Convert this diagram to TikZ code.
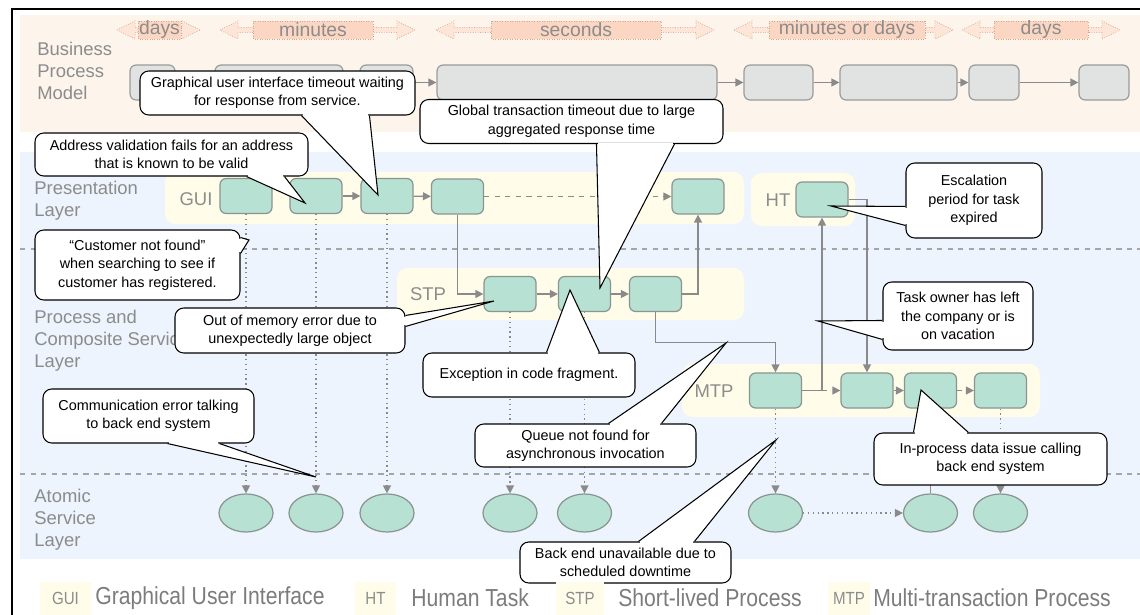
\documentclass[tikz,border=0pt]{standalone}
\usepackage{fontspec}
\setmainfont{Liberation Sans}
\newfontfamily\legendfont[FakeStretch=0.86]{Liberation Sans}
\usetikzlibrary{arrows.meta,calc,shapes.geometric}

\definecolor{bpmbg}{HTML}{FDF4EC}
\definecolor{layerbg}{HTML}{EDF4FD}
\definecolor{lanebg}{HTML}{FFFCEA}
\definecolor{taskfill}{HTML}{B6E1D3}
\definecolor{taskline}{HTML}{8A9590}
\definecolor{stepfill}{HTML}{E1E3E3}
\definecolor{stepline}{HTML}{9A9C9C}
\definecolor{connline}{HTML}{8A8A8A}
\definecolor{labelgray}{HTML}{8C8C8C}
\definecolor{keygray}{HTML}{7C7C7C}
\definecolor{spanfill}{HTML}{FDE6D8}
\definecolor{spanbody}{HTML}{FBD6C2}
\definecolor{spanline}{HTML}{D2A890}

\newcommand\pxu{0.02cm}
% time span arrow: name, from, to, label from, label to, text
\newcommand\timespan[6]{%
  \filldraw[fill=spanfill, draw=spanline, densely dotted] (#2,30) -- (#2+18,21) -- (#2+18,27.5) -- (#4,27.5) -- (#4,32.5) -- (#2+18,32.5) -- (#2+18,39) -- cycle;
  \filldraw[fill=spanfill, draw=spanline, densely dotted] (#3,30) -- (#3-18,21) -- (#3-18,27.5) -- (#5,27.5) -- (#5,32.5) -- (#3-18,32.5) -- (#3-18,39) -- cycle;
  \filldraw[fill=spanbody, draw=spanline, densely dotted] (#4,21) rectangle (#5,39);
  \node[spantext] (#1) at ({(#4+#5)/2},30) {#6};}
% callout wedge: base point, base point, tip
\newcommand\calltail[3]{%
  \fill[white] #1 -- #3 -- #2 -- cycle;
  \draw[white, line width=1.5pt, shorten <=0.7pt, shorten >=0.7pt] #1 -- #2;
  \draw[line width=0.6pt] #1 -- #3 -- #2;}

\begin{document}
\begin{tikzpicture}[x=0.02cm, y=-0.02cm, font=\fontsize{8.2}{10.5}\selectfont,
    task/.style={draw=taskline, fill=taskfill, rounded corners=3.5pt, line width=0.7pt,
      minimum width=52*\pxu, minimum height=35*\pxu, inner sep=0pt},
    bpmstep/.style={draw=stepline, fill=stepfill, rounded corners=3.5pt, line width=0.7pt,
      minimum height=35*\pxu, inner sep=0pt},
    service/.style={ellipse, draw=taskline, fill=taskfill, line width=0.7pt,
      minimum width=54*\pxu, minimum height=38*\pxu, inner sep=0pt},
    lane/.style={fill=lanebg, rounded corners=6pt},
    flow/.style={connline, line width=0.75pt, -{Triangle[length=4.5pt, width=4.5pt]}},
    drop/.style={flow, dotted},
    callout/.style={draw, fill=white, rounded corners=5pt, line width=0.6pt,
      align=center, inner sep=0pt},
    layerlabel/.style={text=labelgray, font=\fontsize{10.5}{12.5}\selectfont,
      align=left, anchor=west, inner sep=0pt},
    lanelabel/.style={text=labelgray, font=\fontsize{10.5}{12.5}\selectfont, inner sep=0pt},
    spantext/.style={text=labelgray, font=\fontsize{11}{13}\selectfont, inner sep=0pt},
    tag/.style={fill=lanebg, text=labelgray, font=\legendfont\fontsize{10}{12}\selectfont,
      minimum height=33*\pxu, inner sep=3pt},
    legend/.style={text=keygray, font=\legendfont\fontsize{14}{16}\selectfont,
      anchor=west, inner sep=0pt}]
  \useasboundingbox (0,0) rectangle (1140,615);

  % layers
  \fill[bpmbg] (20,15) rectangle (1140,132);
  \fill[layerbg] (20,152) rectangle (1140,559);
  \draw[gray!70, dashed, line width=0.6pt] (20,249) -- (1140,249);
  \draw[gray!70, dashed, line width=0.6pt] (20,474) -- (1140,474);
  \draw[line width=0.8pt] (12,615) -- (12,9) -- (1140,9);

  \node[layerlabel] (bpmlbl) at (37,71) {Business\\Process\\Model};
  \node[layerlabel] (preslbl) at (34,201) {Presentation\\Layer};
  \node[layerlabel] (proclbl) at (34,341) {Process and\\Composite Service\\Layer};
  \node[layerlabel] (atomlbl) at (34,520) {Atomic\\Service\\Layer};

  % durations
  \timespan{tdays}{117}{200}{138}{181}{days}
  \timespan{tminutes}{220}{415}{253}{373}{minutes}
  \timespan{tseconds}{436}{714}{491}{661}{seconds}
  \timespan{tmindays}{734}{953}{769}{925}{minutes or days}
  \timespan{tdaysb}{962}{1120}{994}{1088}{days}

  % business process model
  \node[bpmstep, minimum width=45*\pxu] (bp1) at (152.5,82.5) {};
  \node[bpmstep, minimum width=128*\pxu] (bp2) at (279,82.5) {};
  \node[bpmstep, minimum width=53*\pxu] (bp3) at (386.5,82.5) {};
  \node[bpmstep, minimum width=280*\pxu] (bp4) at (577,82.5) {};
  \node[bpmstep, minimum width=69*\pxu] (bp5) at (778.5,82.5) {};
  \node[bpmstep, minimum width=117*\pxu] (bp6) at (898.5,82.5) {};
  \node[bpmstep, minimum width=50*\pxu] (bp7) at (994,82.5) {};
  \node[bpmstep, minimum width=50*\pxu] (bp8) at (1104,82.5) {};
  \foreach \a/\b in {bp1/bp2, bp2/bp3, bp3/bp4, bp4/bp5, bp5/bp6, bp6/bp7, bp7/bp8}
    \draw[flow] (\a) -- (\b);

  % lanes
  \fill[lane] (165,172) rectangle (744,224);
  \fill[lane] (751,173) rectangle (855,226);
  \fill[lane] (397,268) rectangle (744,320);
  \fill[lane] (682,364) rectangle (1040,417);
  \node[lanelabel] (guilbl) at (196,199) {GUI};
  \node[lanelabel] (htlbl) at (778,200) {HT};
  \node[lanelabel] (stplbl) at (428,294) {STP};
  \node[lanelabel] (mtplbl) at (714,391) {MTP};

  % tasks
  \node[task] (g1) at (246,196) {};
  \node[task] (g2) at (316,196) {};
  \node[task] (g3) at (387,196) {};
  \node[task] (g4) at (457.5,196.5) {};
  \node[task] (g5) at (698,196.5) {};
  \node[task] (ht) at (822,199.5) {};
  \node[task] (s1) at (510,294) {};
  \node[task] (s2) at (584.5,294) {};
  \node[task] (s3) at (655.5,294) {};
  \node[task] (m1) at (775.5,390.5) {};
  \node[task] (m2) at (867,390.5) {};
  \node[task] (m3) at (930.5,390.5) {};
  \node[task] (m4) at (1000.5,390.5) {};

  % atomic services
  \node[service] (a1) at (246,513) {};
  \node[service] (a2) at (316,513) {};
  \node[service] (a3) at (387,513) {};
  \node[service] (a4) at (510,513) {};
  \node[service] (a5) at (584.5,513) {};
  \node[service] (a6) at (775.5,513) {};
  \node[service] (a7) at (930.5,513) {};
  \node[service] (a8) at (1000.5,513) {};

  % flows
  \draw[flow] (g2) -- (g3);
  \draw[flow] (g3) -- (g4);
  \draw[flow, dashed] (g4) -- (g5);
  \draw[flow] (g4.south) |- (s1.west);
  \draw[flow] (s1) -- (s2);
  \draw[flow] (s2) -- (s3);
  \draw[flow] (s3.east) -| (g5.south);
  \draw[flow] (s3.south) |- ($(m1.north)+(0,-30)$) -- (m1.north);
  \draw[flow] (m1.east) -| (ht.south);
  \draw[flow, dashed] (m1.east -| ht.south) -- (m2.west);
  \draw[flow] (ht.east) -| (m2.north);
  \draw[flow] (m2) -- (m3);
  \draw[flow, dashed] (m3) -- (m4);
  \foreach \t/\s in {g1/a1, g2/a2, g3/a3, s1/a4, s2/a5, m1/a6, m4/a8}
    \draw[drop] (\t) -- (\s);
  \draw[connline, line width=0.75pt] (m3) -- (a7);
  \draw[drop] (a6) -- (a7);

  % failure callouts
  \coordinate (guitip) at (378,195);
  \coordinate (addrtip) at (305,203);
  \coordinate (globtip) at (600,288);
  \coordinate (esctip) at (831,206);
  \coordinate (custtip) at (249,240);
  \coordinate (memtip) at (494,301);
  \coordinate (exctip) at (570,290);
  \coordinate (ownertip) at (818,321);
  \coordinate (commtip) at (316,477);
  \coordinate (queuetip) at (726,343);
  \coordinate (datatip) at (921,390);
  \coordinate (downtip) at (776,440);

  \node[callout, minimum width=275*\pxu, minimum height=44*\pxu] (guito) at (277.5,93)
    {Graphical user interface timeout waiting\\for response from service.};
  \calltail{($(guito.south west)+(162,0)$)}{($(guito.south west)+(230,0)$)}{(guitip)}
  \node[callout, minimum width=273*\pxu, minimum height=43*\pxu] (addr) at (171.5,154.5)
    {Address validation fails for an address\\that is known to be valid};
  \calltail{($(addr.south west)+(212,0)$)}{($(addr.south west)+(250,0)$)}{(addrtip)}
  \node[callout, minimum width=303*\pxu, minimum height=44*\pxu] (glob) at (571.5,121.5)
    {Global transaction timeout due to large\\aggregated response time};
  \calltail{($(glob.south west)+(177,0)$)}{($(glob.south west)+(255,0)$)}{(globtip)}
  \node[callout, minimum width=136*\pxu, minimum height=75*\pxu] (esc) at (974,200.5)
    {Escalation\\period for task\\expired};
  \calltail{($(esc.north west)+(0,44)$)}{($(esc.north west)+(0,63)$)}{(esctip)}
  \node[callout, minimum width=205*\pxu, minimum height=70*\pxu] (cust) at (137.5,265)
    {“Customer not found”\\when searching to see if\\customer has registered.};
  \calltail{($(cust.north east)+(0,8)$)}{($(cust.north east)+(0,24)$)}{(custtip)}
  \node[callout, minimum width=230*\pxu, minimum height=45*\pxu] (mem) at (290,330.5)
    {Out of memory error due to\\unexpectedly large object};
  \calltail{($(mem.north east)+(0,8)$)}{($(mem.north east)+(0,19)$)}{(memtip)}
  \node[callout, minimum width=212*\pxu, minimum height=44*\pxu] (exc) at (529,375)
    {Exception in code fragment.};
  \calltail{($(exc.north west)+(124,0)$)}{($(exc.north west)+(177,0)$)}{(exctip)}
  \node[callout, minimum width=150*\pxu, minimum height=68*\pxu] (owner) at (958,316)
    {Task owner has left\\the company or is\\on vacation};
  \calltail{($(owner.north west)+(0,39)$)}{($(owner.north west)+(0,58)$)}{(ownertip)}
  \node[callout, minimum width=211*\pxu, minimum height=54*\pxu] (comm) at (148.5,416)
    {Communication error talking\\to back end system};
  \calltail{($(comm.south west)+(125,0)$)}{($(comm.south west)+(177,0)$)}{(commtip)}
  \node[callout, minimum width=221*\pxu, minimum height=43*\pxu] (queue) at (585.5,445.5)
    {Queue not found for\\asynchronous invocation};
  \calltail{($(queue.north west)+(134,0)$)}{($(queue.north west)+(187,0)$)}{(queuetip)}
  \node[callout, minimum width=233*\pxu, minimum height=52*\pxu] (data) at (990.5,459)
    {In-process data issue calling\\back end system};
  \calltail{($(data.north west)+(40,0)$)}{($(data.north west)+(95,0)$)}{(datatip)}
  \node[callout, minimum width=211*\pxu, minimum height=41*\pxu] (down) at (625.5,562.5)
    {Back end unavailable due to\\scheduled downtime};
  \calltail{($(down.north west)+(119,0)$)}{($(down.north west)+(175,0)$)}{(downtip)}

  % legend
  \node[tag, minimum width=51*\pxu] (keygui) at (65.5,598.5) {GUI};
  \node[legend] (txtgui) at (95,598) {Graphical User Interface};
  \node[tag, minimum width=41*\pxu] (keyht) at (375.5,598.5) {HT};
  \node[legend] (txtht) at (411,598) {Human Task};
  \node[tag, minimum width=48*\pxu] (keystp) at (580,598.5) {STP};
  \node[legend] (txtstp) at (618,598) {Short-lived Process};
  \node[tag, minimum width=40*\pxu] (keymtp) at (849,598.5) {MTP};
  \node[legend] (txtmtp) at (873,598) {Multi-transaction Process};
\end{tikzpicture}
\end{document}
